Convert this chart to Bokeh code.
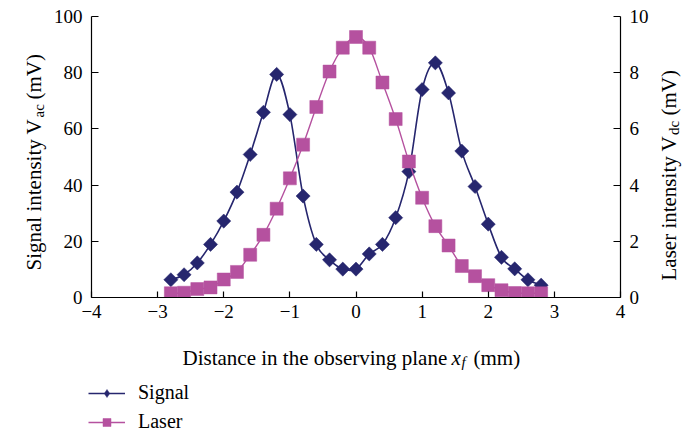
import math
from bokeh.plotting import figure
from bokeh.layouts import row, column
from bokeh.models import Range1d, LinearAxis, FixedTicker, Label, Legend, LegendItem, ColumnDataSource
from bokeh.embed import file_html
from bokeh.resources import INLINE

# ---- data ----
x_mm = [-2.8, -2.6, -2.4, -2.2, -2.0, -1.8, -1.6, -1.4, -1.2, -1.0,
        -0.8, -0.6, -0.4, -0.2, 0.0, 0.2, 0.4, 0.6, 0.8, 1.0,
        1.2, 1.4, 1.6, 1.8, 2.0, 2.2, 2.4, 2.6, 2.8]
signal_mv = [6.3, 8.1, 12.3, 18.9, 27.2, 37.5, 50.9, 65.9, 79.4, 65.1,
             36.1, 18.9, 13.4, 10.1, 10.1, 15.5, 18.9, 28.4, 44.8, 74.0,
             83.5, 72.8, 52.1, 39.5, 26.1, 14.3, 10.2, 6.3, 4.4]
laser_mv = [0.15, 0.17, 0.30, 0.36, 0.64, 0.91, 1.52, 2.23, 3.16, 4.24,
            5.44, 6.78, 8.04, 8.89, 9.27, 8.89, 7.65, 6.35, 4.84, 3.55,
            2.54, 1.85, 1.12, 0.76, 0.44, 0.26, 0.16, 0.15, 0.15]
x_ticks = [-4, -3, -2, -1, 0, 1, 2, 3, 4]
signal_ticks = [0, 20, 40, 60, 80, 100]
laser_ticks = [0, 2, 4, 6, 8, 10]
series_names = ["Signal", "Laser"]

FONT = "Liberation Serif"
TICK_FS = "19px"
TITLE_FS = "21px"
SUB_FS = "15px"
LEG_FS = "20px"
SIG_COLOR = "#26266e"
LAS_COLOR = "#b5519f"

# ---- page geometry ----
W, H = 691, 433
LEFT_W, RIGHT_W = 50, 36
TOP_H = 340
MAIN_W = W - LEFT_W - RIGHT_W


def smooth(xs, ys):
    """Catmull-Rom style bezier segments through the data points (Excel-like smoothed line)."""
    n = len(xs)
    d = {k: [] for k in ("x0", "y0", "x1", "y1", "cx0", "cy0", "cx1", "cy1")}
    for i in range(n - 1):
        xp, yp = (xs[i - 1], ys[i - 1]) if i > 0 else (xs[i], ys[i])
        xn, yn = (xs[i + 2], ys[i + 2]) if i + 2 < n else (xs[i + 1], ys[i + 1])
        d["x0"].append(xs[i]); d["y0"].append(ys[i])
        d["x1"].append(xs[i + 1]); d["y1"].append(ys[i + 1])
        d["cx0"].append(xs[i] + (xs[i + 1] - xp) / 6.0)
        d["cy0"].append(ys[i] + (ys[i + 1] - yp) / 6.0)
        d["cx1"].append(xs[i + 1] - (xn - xs[i]) / 6.0)
        d["cy1"].append(ys[i + 1] - (yn - ys[i]) / 6.0)
    return ColumnDataSource(d)


def blank(width, height):
    f = figure(width=width, height=height, output_backend="svg", toolbar_location=None,
               x_range=Range1d(0, width), y_range=Range1d(0, height),
               min_border=0, min_border_left=0, min_border_right=0,
               min_border_top=0, min_border_bottom=0,
               x_axis_type=None, y_axis_type=None, frame_align=False)
    f.outline_line_color = None
    f.grid.visible = False
    f.background_fill_color = "white"
    f.border_fill_color = "white"
    return f


# ---- main plot ----
p = figure(width=MAIN_W, height=TOP_H, output_backend="svg", toolbar_location=None,
           x_range=Range1d(-4, 4), y_range=Range1d(0, 100),
           min_border_left=41, min_border_right=MAIN_W - 41 - 529,
           min_border_top=16, min_border_bottom=TOP_H - 297,
           x_axis_type=None, y_axis_type=None, frame_align=False)
p.extra_y_ranges = {"laser": Range1d(0, 10)}
p.outline_line_color = None
p.background_fill_color = "white"
p.border_fill_color = "white"


def style_axis(ax, ticks, tick_in, standoff):
    ax.ticker = FixedTicker(ticks=ticks)
    ax.major_label_overrides = {t: str(t).replace("-", "\u2212") for t in ticks}
    ax.axis_line_color = "black"
    ax.axis_line_width = 1.2
    ax.major_tick_line_color = "black"
    ax.major_tick_line_width = 1.2
    ax.major_tick_in = tick_in
    ax.major_tick_out = 0
    ax.minor_tick_line_color = None
    ax.major_label_standoff = standoff
    ax.major_label_text_font = FONT
    ax.major_label_text_font_size = TICK_FS
    ax.major_label_text_color = "black"


xaxis = LinearAxis()
style_axis(xaxis, x_ticks, 6, 7)
p.add_layout(xaxis, "below")

yaxis = LinearAxis()
style_axis(yaxis, signal_ticks, 7, 9)
p.add_layout(yaxis, "left")

raxis = LinearAxis(y_range_name="laser")
style_axis(raxis, laser_ticks, 7, 9)
p.add_layout(raxis, "right")

p.xgrid.visible = False
p.ygrid.ticker = FixedTicker(ticks=signal_ticks)
p.ygrid.grid_line_color = "#7a7a7a"
p.ygrid.grid_line_width = 1.2

p.bezier(x0="x0", y0="y0", x1="x1", y1="y1", cx0="cx0", cy0="cy0", cx1="cx1", cy1="cy1",
         source=smooth(x_mm, signal_mv), line_color=SIG_COLOR, line_width=1.6)
p.scatter(x_mm, signal_mv, marker="square", angle=math.pi / 4, size=10,
          fill_color=SIG_COLOR, line_color=SIG_COLOR, line_width=0.5)

p.bezier(x0="x0", y0="y0", x1="x1", y1="y1", cx0="cx0", cy0="cy0", cx1="cx1", cy1="cy1",
         source=smooth(x_mm, laser_mv), line_color=LAS_COLOR, line_width=1.4,
         y_range_name="laser")
p.scatter(x_mm, laser_mv, marker="square", size=13,
          fill_color=LAS_COLOR, line_color=LAS_COLOR, line_width=0.5,
          y_range_name="laser")


def lab(f, sx, sy, text, size=TITLE_FS, style="normal", angle=0.0):
    f.add_layout(Label(x=sx, y=sy, x_units="screen", y_units="screen", text=text,
                       text_font=FONT, text_font_size=size, text_font_style=style,
                       text_align="left", text_baseline="alphabetic", angle=angle,
                       text_color="black"))


R = math.pi / 2

# ---- left title panel (canvas x 0..50, y 0..340) ----
left = blank(LEFT_W, TOP_H)
lab(left, 33, TOP_H - 270, "Signal intensity V", angle=R)
lab(left, 38, TOP_H - 117, "ac", size=SUB_FS, angle=R)
lab(left, 33, TOP_H - 99, "(mV)", angle=R)

# ---- right title panel (canvas x 655..691) ----
right = blank(RIGHT_W, TOP_H)
RX0 = W - RIGHT_W
lab(right, 668 - RX0, TOP_H - 280, "Laser intensity V", angle=R)
lab(right, 673 - RX0, TOP_H - 134.5, "dc", size=SUB_FS, angle=R)
lab(right, 668 - RX0, TOP_H - 115, "(mV)", angle=R)

# ---- bottom panel: x title and legend (canvas y 340..433) ----
bottom = blank(W, H - TOP_H)
lab(bottom, 182, H - 357, "Distance in the observing plane")
lab(bottom, 451, H - 357, "x", style="italic")
lab(bottom, 461, H - 361, "f", size=SUB_FS, style="italic")
lab(bottom, 473, H - 357, "(mm)")

# legend-only renderers: same data, mapped onto a range that is never in view
bottom.extra_y_ranges = {"offscreen": Range1d(1000, 1001)}
bottom.extra_x_ranges = {"offscreen": Range1d(1000, 1001)}
leg_kw = dict(x_range_name="offscreen", y_range_name="offscreen")
leg_sig_line = bottom.line(x_mm, signal_mv, line_color=SIG_COLOR, line_width=1.6, **leg_kw)
leg_sig_pt = bottom.scatter(x_mm, signal_mv, marker="diamond", size=16,
                            fill_color=SIG_COLOR, line_color=SIG_COLOR, line_width=0.5, **leg_kw)
leg_las_line = bottom.line(x_mm, laser_mv, line_color=LAS_COLOR, line_width=1.4, **leg_kw)
leg_las_pt = bottom.scatter(x_mm, laser_mv, marker="square", size=13,
                            fill_color=LAS_COLOR, line_color=LAS_COLOR, line_width=0.5, **leg_kw)

legend = Legend(items=[LegendItem(label=series_names[0], renderers=[leg_sig_line, leg_sig_pt]),
                       LegendItem(label=series_names[1], renderers=[leg_las_line, leg_las_pt])],
                location=(88, 0), orientation="vertical",
                glyph_width=37, glyph_height=20, label_height=20,
                spacing=6, padding=0, margin=0, label_standoff=13,
                label_text_font=FONT, label_text_font_size=LEG_FS, label_text_color="black",
                border_line_color=None, background_fill_alpha=0)
bottom.add_layout(legend)

layout = column(row(left, p, right), bottom)
open("out.html", "w").write(file_html(layout, INLINE))
